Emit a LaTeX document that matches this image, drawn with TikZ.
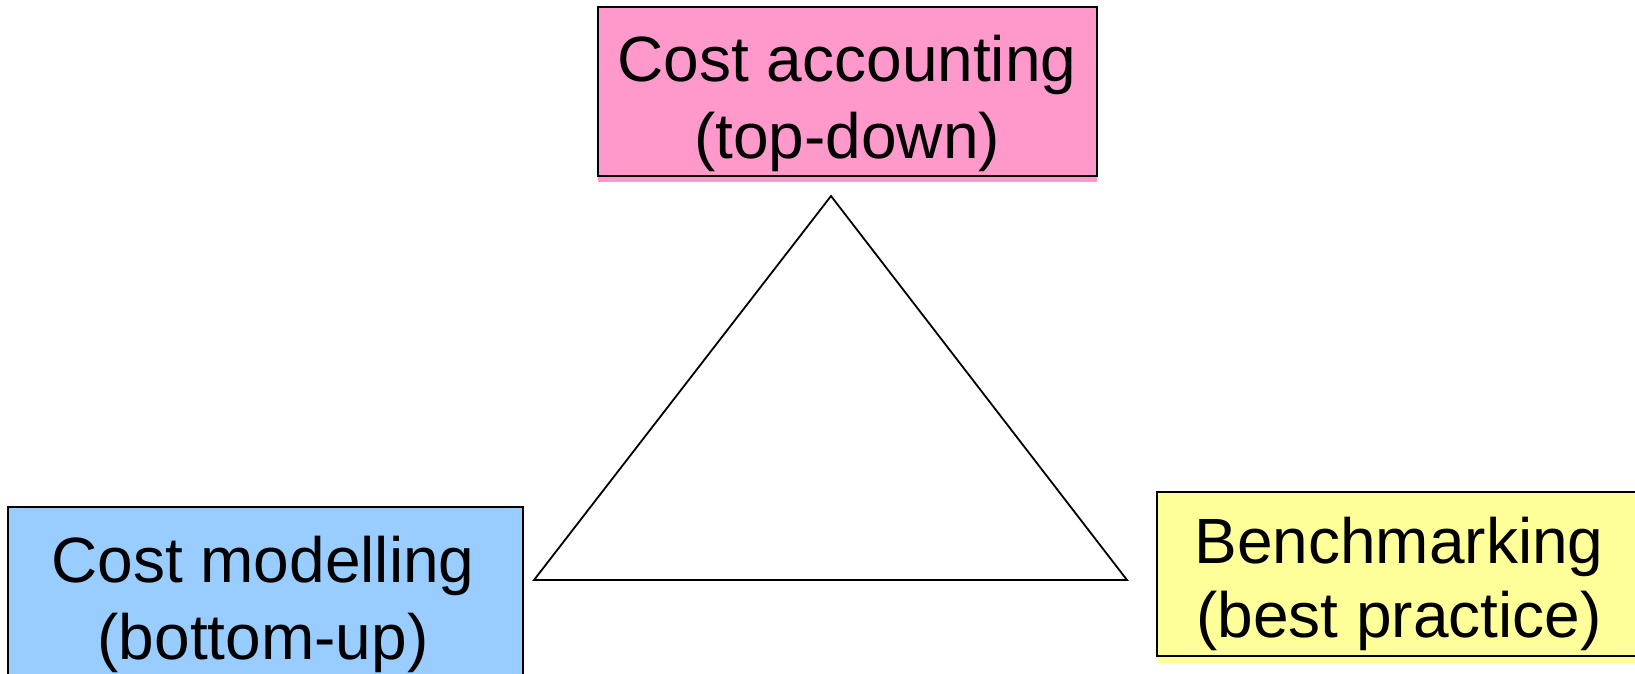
\documentclass[tikz,border=0pt]{standalone}
\usepackage{fontspec}
\setmainfont{Liberation Sans}
\definecolor{boxpink}{HTML}{FF99CC}
\definecolor{boxblue}{HTML}{99CCFF}
\definecolor{boxyellow}{HTML}{FFFF99}
\begin{document}
\begin{tikzpicture}[x=1pt,y=1pt,
  box/.style={draw=black, line width=1.5pt, rectangle, inner sep=0pt},
  shadowbox/.style={rectangle, inner sep=0pt, draw=none},
  lbl/.style={anchor=base, inner sep=0pt, font=\fontsize{64}{77}\selectfont}]
\useasboundingbox (0,0) rectangle (1635,-673);
\clip (0,0) rectangle (1635,-673);
% top box
\node[shadowbox, fill=boxpink, minimum width=499pt, minimum height=169pt] (cashadow) at (847.5,-97.5) {};
\node[box, fill=boxpink, minimum width=499pt, minimum height=169pt] (ca) at (847.5,-91.5) {};
\node[lbl] (ca1) at (847,-81) {Cost accounting};
\node[lbl] (ca2) at (847,-158) {(top-down)};
% left box
\node[box, fill=boxblue, minimum width=515pt, minimum height=190pt] (cm) at (265.5,-602) {};
\node[lbl] (cm1) at (263,-582) {Cost modelling};
\node[lbl] (cm2) at (263,-659) {(bottom-up)};
% right box
\node[shadowbox, fill=boxyellow, minimum width=510pt, minimum height=164pt] (bmshadow) at (1412,-581) {};
\node[box, fill=boxyellow, minimum width=510pt, minimum height=164pt] (bm) at (1412,-574) {};
\node[lbl] (bm1) at (1399,-563) {Benchmarking};
\node[lbl] (bm2) at (1399,-637) {(best practice)};
% triangle
\coordinate (apex) at (831,-196);
\coordinate (bl) at (534,-580);
\coordinate (br) at (1127,-580);
\draw[line width=1.8pt, line join=miter] (apex) -- (bl) -- (br) -- cycle;
\end{tikzpicture}
\end{document}
